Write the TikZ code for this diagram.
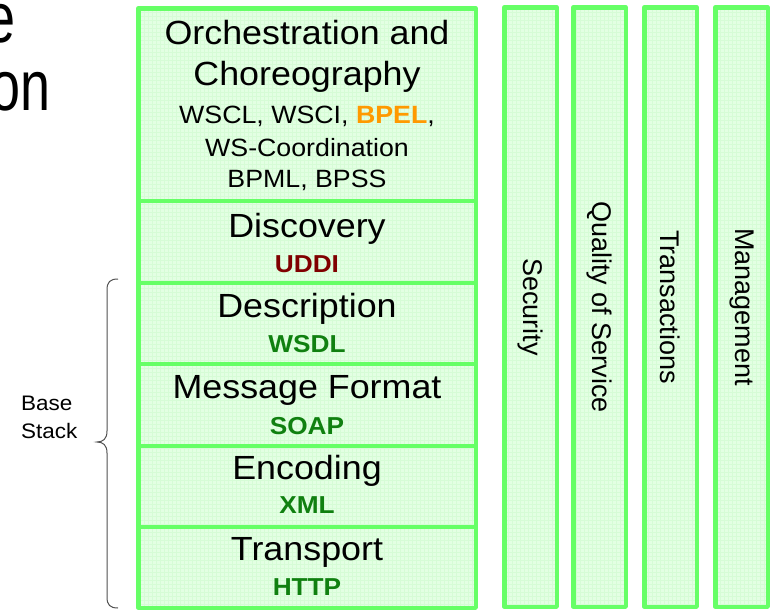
\documentclass[tikz,border=0pt]{standalone}
\usepackage{fontspec}
\setmainfont{Liberation Sans}[FakeStretch=1.07]
\newfontfamily\colfont{Liberation Sans}
\newfontfamily\titlefont{Liberation Sans}[FakeStretch=0.76]

\definecolor{edge}{HTML}{66FF66}
\definecolor{cellfill}{HTML}{E3FFE3}
\definecolor{gridc}{HTML}{D6FCD6}
\definecolor{bpel}{HTML}{FF9900}
\definecolor{uddi}{HTML}{800000}
\definecolor{proto}{HTML}{108010}
\definecolor{bracec}{HTML}{505050}

% light green panel with a fine grid texture
\newcommand\gridpanel[4]{%
  \fill[cellfill] (#1,#2) rectangle (#3,#4);
  \begin{scope}
    \clip (#1,#2) rectangle (#3,#4);
    \draw[gridc, line width=0.45pt] (#1,#2) grid[step=4pt] (#3,#4);
  \end{scope}}

\begin{document}
\begin{tikzpicture}[x=1pt,y=-1pt,
  frame/.style={draw=edge, line width=4.5pt, line join=round},
  head/.style={font=\fontsize{33.5}{38}\selectfont, anchor=base, inner sep=0pt},
  sub/.style={font=\fontsize{25}{28}\selectfont, anchor=base, inner sep=0pt},
  proto/.style={font=\fontsize{24.5}{28}\selectfont\bfseries, anchor=base, inner sep=0pt},
  coltext/.style={font=\colfont\fontsize{27}{30}\selectfont, rotate=-90, inner sep=0pt},
  side/.style={font=\fontsize{21}{25}\selectfont, anchor=base west, inner sep=0pt},
  title/.style={font=\titlefont\fontsize{71}{71}\selectfont, anchor=base east, inner sep=0pt}
]
\useasboundingbox (0,0) rectangle (772,613);

% partly visible slide title
\node[title] (ttla) at (16,42) {e};
\node[title] (ttlb) at (51,110) {on};

% main protocol stack
\gridpanel{138}{8}{476}{608}
\draw[frame] (138.25,8.25) rectangle (475.75,607.75);
\foreach \yy in {201,283,364,446,527}
  \draw[frame] (138.25,\yy) -- (475.75,\yy);

\node[head] (orch1) at (307,45) {Orchestration and};
\node[head] (orch2) at (307,85) {Choreography};
\node[sub] (orch3) at (307,123) {WSCL, WSCI, {\bfseries\color{bpel}BPEL},};
\node[sub] (orch4) at (307,156) {WS-Coordination};
\node[sub] (orch5) at (307,187) {BPML, BPSS};

\node[head] (disc) at (307,237) {Discovery};
\node[proto, text=uddi] (uddi) at (307,272) {UDDI};

\node[head] (desc) at (307,317) {Description};
\node[proto, text=proto] (wsdl) at (307,352) {WSDL};

\node[head] (msg) at (307,398) {Message Format};
\node[proto, text=proto] (soap) at (307,434) {SOAP};

\node[head] (enc) at (307,479) {Encoding};
\node[proto, text=proto] (xml) at (307,513) {XML};

\node[head] (trans) at (307,560) {Transport};
\node[proto, text=proto] (http) at (307,595) {HTTP};

% vertical cross-cutting columns
\foreach \xa/\xb/\nm/\txt in {504.25/556.75/sec/Security,
                              573.25/625.75/qos/Quality of Service,
                              644.25/696.75/trx/Transactions,
                              715.25/767.75/mgmt/Management}{
  \gridpanel{\xa}{7.25}{\xb}{606.75}
  \draw[frame] (\xa,7.25) rectangle (\xb,606.75);
  \node[coltext] (\nm) at ({(\xa+\xb)/2},307) {\txt};
}

% brace marking the base stack
\draw[bracec, line width=1pt]
  (118,279) .. controls (110,279) and (107,282) .. (107,290)
  -- (107,431) .. controls (107,439) and (103,442) .. (97,442)
  .. controls (103,442) and (107,445) .. (107,453)
  -- (107,597) .. controls (107,605) and (110,608) .. (118,608);
\node[side] (base1) at (21,410) {Base};
\node[side] (base2) at (21,438) {Stack};
\end{tikzpicture}
\end{document}
